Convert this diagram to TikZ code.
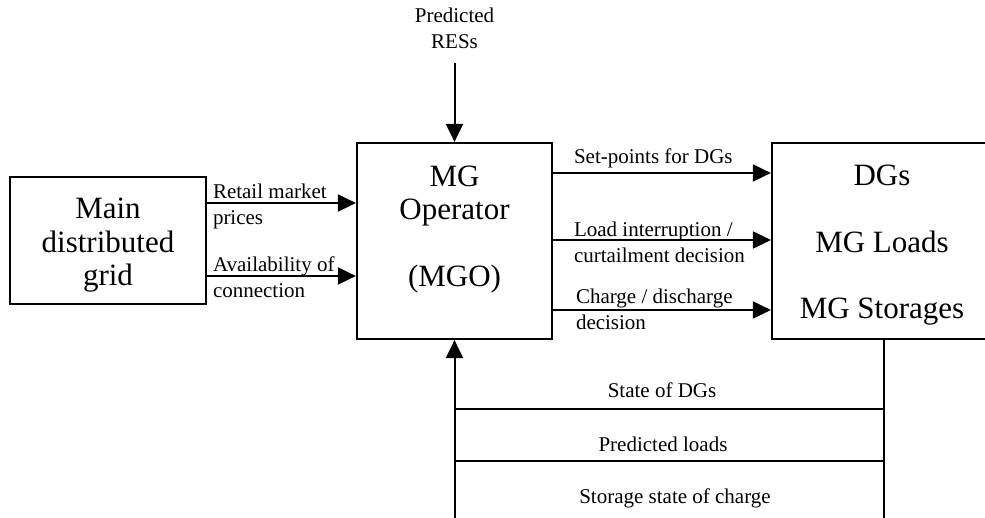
\documentclass[tikz,border=0pt]{standalone}
\usepackage{fontspec}
\setmainfont{Liberation Serif}
\usetikzlibrary{arrows.meta,calc}
\begin{document}
\begin{tikzpicture}[x=1pt,y=-1pt,line width=2pt,
  box/.style={draw,line width=2.2pt,inner sep=0pt},
  bigtxt/.style={inner sep=0pt,align=center,font=\fontsize{31}{33.5}\selectfont},
  lbl/.style={inner sep=0pt,align=left,anchor=west,font=\fontsize{21}{26}\selectfont},
  clbl/.style={inner sep=0pt,align=center,font=\fontsize{21}{26}\selectfont},
  arr/.style={-{Triangle[length=18pt,width=17pt]}}]
\useasboundingbox (0,0) rectangle (985,518);
% boxes
\node[box,minimum width=196pt,minimum height=127pt] (main) at (108,240.5) {};
\node[bigtxt] (maintxt) at (108,245.5) {Main\\distributed\\grid};
\node[box,minimum width=195pt,minimum height=196pt] (mgo) at (454.5,241) {};
\node[bigtxt] (mgotxt) at (454.5,229.5) {MG\\Operator\\[33.5pt](MGO)};
\node[box,minimum width=220pt,minimum height=196pt] (dev) at (882,241) {};
\node[bigtxt] (devtxt) at (882,245.5) {DGs\\[33pt]MG Loads\\[33pt]MG Storages};
% top input
\node[clbl] (res) at (454.5,28.5) {Predicted\\RESs};
\coordinate (restop) at (454.5,63);
\draw[arr] (restop) -- (mgo.north);
% left arrows
\draw[arr] (main.east |- 0,203) -- (mgo.west |- 0,203);
\draw[arr] (main.east |- 0,276) -- (mgo.west |- 0,276);
\node[lbl] (l1) at (212,206) {Retail market\\prices};
\node[lbl] (l2) at (212,277.5) {Availability of\\connection};
% right arrows
\draw[arr] (mgo.east |- 0,173) -- (dev.west |- 0,173);
\draw[arr] (mgo.east |- 0,240) -- (dev.west |- 0,240);
\draw[arr] (mgo.east |- 0,310) -- (dev.west |- 0,310);
\node[lbl] (r1) at (573,158.5) {Set-points for DGs};
\node[lbl] (r2) at (573,242) {Load interruption /\\curtailment decision};
\node[lbl] (r3) at (575,309) {Charge / discharge\\decision};
% feedback
\coordinate (fbl) at (454.5,522);
\coordinate (fbr) at (884,522);
\draw[arr] (fbl) -- (mgo.south);
\draw (fbr |- dev.south) -- (fbr);
\draw (fbl |- 0,409) -- (fbr |- 0,409);
\draw (fbl |- 0,461) -- (fbr |- 0,461);
\node[clbl] (b1) at (662,390) {State of DGs};
\node[clbl] (b2) at (663,444) {Predicted loads};
\node[clbl] (b3) at (675,498) {Storage state of charge};
\end{tikzpicture}
\end{document}
